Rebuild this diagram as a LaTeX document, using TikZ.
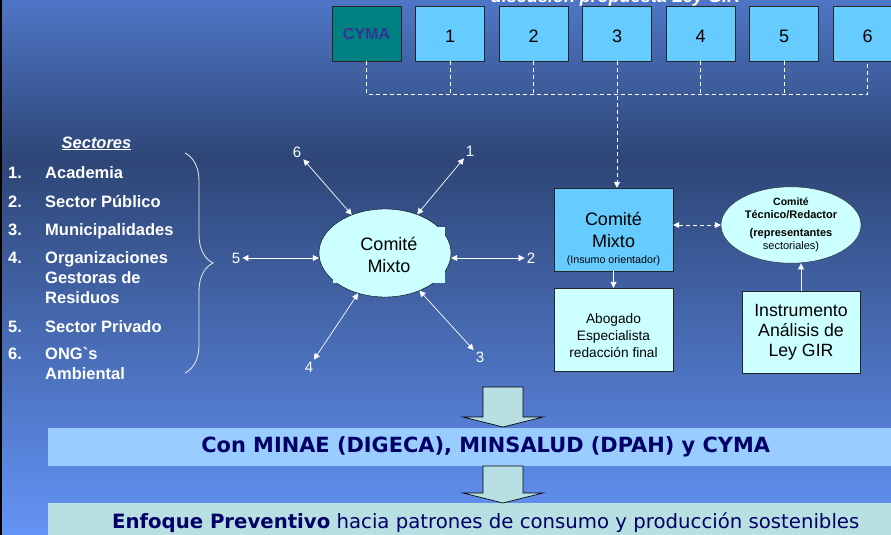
\documentclass[tikz,border=0pt]{standalone}
\usepackage{fontspec}
\setmainfont{Liberation Sans}
\newfontfamily\tahoma{DejaVu Sans}
\usetikzlibrary{arrows.meta,shapes.geometric,decorations.pathreplacing}
\definecolor{bgtop}{HTML}{4F76C6}
\definecolor{bgmid}{HTML}{2E4677}
\definecolor{bgbot}{HTML}{6494F6}
\definecolor{cymateal}{HTML}{008080}
\definecolor{cymatext}{HTML}{333399}
\definecolor{boxblue}{HTML}{66CCFF}
\definecolor{paleblue}{HTML}{CCFFFF}
\definecolor{bandblue}{HTML}{99CCFF}
\definecolor{bandteal}{HTML}{B8E0E2}
\definecolor{navy}{HTML}{000066}
\begin{document}
\begin{tikzpicture}[x=1pt, y=-1pt, >={Triangle[length=6pt, width=6pt]},
	topbox/.style={draw=black!85, fill=boxblue, minimum width=69pt, minimum height=55pt, inner sep=0pt, font=\fontsize{18}{20}\selectfont, text height=19pt, text depth=0pt},
	palebox/.style={draw=black!85, fill=paleblue, minimum width=119pt, minimum height=83pt, inner sep=0pt, align=center},
	dashline/.style={white, dash pattern=on 4pt off 3pt, line width=0.8pt},
	twoway/.style={<->, white, line width=0.7pt},
	starnum/.style={text=white, font=\fontsize{15}{18}\selectfont, inner sep=2pt},
	sector/.style={text=white, font=\bfseries\fontsize{16.5}{20}\selectfont, anchor=base west, inner sep=0pt},
	band/.style={minimum width=875pt, minimum height=38pt, anchor=north west, inner sep=0pt, text=navy},
	blockarrow/.style={draw=black, fill=bandteal, line width=0.7pt}]
	
	\useasboundingbox (0,0) rectangle (891,535);
	\shade[top color=bgtop, bottom color=bgmid] (0,0) rectangle (891,160);
	\shade[top color=bgmid, bottom color=bgbot] (0,160) rectangle (891,535);
	\fill[black] (0,0) rectangle (2,535);
	
	% titulo cortado arriba
	\node[text=white, font=\bfseries\itshape\fontsize{18}{20}\selectfont, anchor=base] (title) at (615.5,3) {discusión propuesta Ley GIR};
	
	% fila de comites
	\node[topbox, fill=cymateal, text=cymatext, font=\bfseries\fontsize{16}{18}\selectfont, text height=11.5pt] (cyma) at (366.5,33.5) {CYMA};
	\foreach \i in {1,...,6}
		\node[topbox] (b\i) at ({366.5+83.5*\i},33.5) {\i};
	\coordinate (bus) at (617,94);
	\draw[dashline] (cyma.south) -- (cyma.south |- bus) -- (b6.south |- bus) -- (b6.south);
	\foreach \i in {1,2,4,5}
		\draw[dashline] (b\i.south) -- (b\i.south |- bus);
	
	% lista de sectores
	\node[text=white, font=\bfseries\itshape\fontsize{16.5}{20}\selectfont, anchor=base, inner sep=0pt] (sectitle) at (96.5,148) {\underline{Sectores}};
	\foreach \y/\n in {178/1, 207/2, 235/3, 263/4, 332/5, 359/6}
		\node[sector] (num\n) at (8,\y) {\n.};
	\foreach \y/\t [count=\k] in {178/Academia, 207/Sector Público, 235/Municipalidades, 263/Organizaciones, 283/Gestoras de, 303/Residuos, 332/Sector Privado, 359/ONG\textasciigrave s, 379/Ambiental}
		\node[sector] (sec\k) at (45,\y) {\t};
	\draw[white!85!gray, line width=0.8pt, decorate, decoration={brace, amplitude=28pt}] (185,153) -- (185,373);
	
	% estrella del comite mixto
	\node[ellipse, draw=black, fill=paleblue, minimum width=132pt, minimum height=88pt, inner sep=0pt] (mix) at (385,253) {};
	\node[fill=paleblue, minimum width=112pt, minimum height=56pt, inner sep=0pt, align=center, font=\fontsize{18}{22}\selectfont] (mixtxt) at (389,255) {Comité\\Mixto};
	\node[starnum] (s1) at (470,151) {1};
	\node[starnum] (s2) at (531,258) {2};
	\node[starnum] (s3) at (480,357) {3};
	\node[starnum] (s4) at (309,367) {4};
	\node[starnum] (s5) at (236,258) {5};
	\node[starnum] (s6) at (297,152) {6};
	\foreach \i in {1,3,4,6}
		\draw[twoway] (s\i) -- (mix);
	\draw[twoway] (s2) -- (s2 -| mix.east);
	\draw[twoway] (s5) -- (s5 -| mix.west);
	
	% lado derecho
	\node[palebox, fill=boxblue, font=\fontsize{18}{22}\selectfont] (cm) at (613.5,229.5) {Comité\\Mixto};
	\node[font=\fontsize{10.7}{12}\selectfont, inner sep=0pt] (cmnote) at (613.5,261) {(Insumo orientador)};
	\node[palebox, font=\fontsize{13.7}{17}\selectfont] (abog) at (613.5,329.5) {\rule{0pt}{22pt}Abogado\\Especialista\\redacción final};
	\node[ellipse, draw=black!85, fill=paleblue, minimum width=140pt, minimum height=76pt, inner sep=0pt, align=center, font=\bfseries\fontsize{11}{13}\selectfont] (tec) at (791,225) {{\fontsize{10.5}{12}\selectfont Comité}\\Técnico/Redactor\\[5pt](representantes\\{\mdseries sectoriales)}};
	\node[palebox, minimum width=118pt, minimum height=82pt, font=\fontsize{17.7}{20}\selectfont] (inst) at (801,332) {Instrumento\\Análisis de\\Ley GIR};
	\draw[dashline, ->] (b3.south) -- (b3.south |- cm.north);
	\draw[->, white, line width=0.8pt] (cm) -- (abog);
	\draw[dashline, <->] (cm.east |- tec) -- (tec);
	\draw[->, white!90!gray, line width=1pt] (inst) -- (inst |- tec.south);
	
	% bandas inferiores
	\node[band, fill=bandblue, font=\tahoma\bfseries\fontsize{20.9}{24}\selectfont] (minae) at (48,428) {Con MINAE (DIGECA), MINSALUD (DPAH) y CYMA};
	\node[band, fill=bandteal, font=\tahoma\fontsize{19.7}{22}\selectfont] (enfoque) at (48,503) {\textbf{Enfoque Preventivo} hacia patrones de consumo y producción sostenibles};
	\draw[blockarrow] (483,387) -- (523,387) -- (523,417) -- (543,417) -- (503,427) -- (463,417) -- (483,417) -- cycle;
	\draw[blockarrow] (483,466) -- (523,466) -- (523,493) -- (543,493) -- (503,503) -- (463,493) -- (483,493) -- cycle;
\end{tikzpicture}
\end{document}
